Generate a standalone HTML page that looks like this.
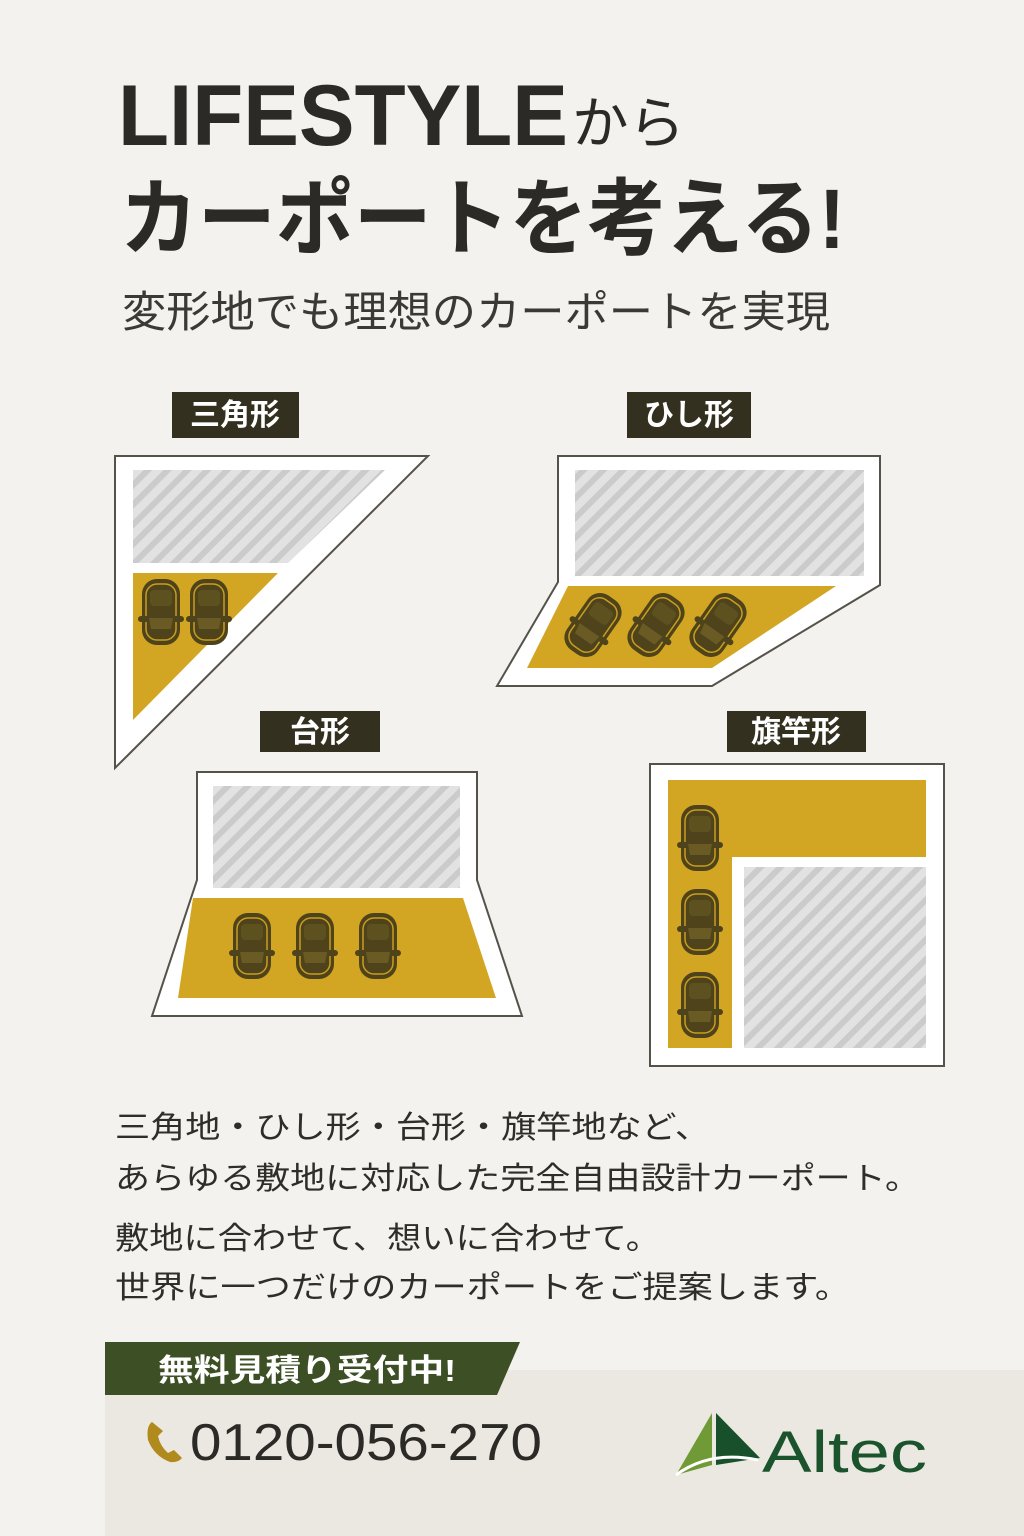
<!DOCTYPE html>
<html><head><meta charset="utf-8"><style>
html,body{margin:0;padding:0;background:#f3f2ef;}
svg{display:block;}
text{font-family:"Liberation Sans","Noto Sans CJK JP",sans-serif;}
</style></head><body>
<svg width="1024" height="1536" viewBox="0 0 1024 1536" xmlns="http://www.w3.org/2000/svg">
<defs>
<pattern id="h" patternUnits="userSpaceOnUse" width="14" height="14" patternTransform="rotate(45)">
<rect width="14" height="14" fill="#e2e2e2"/><rect width="6" height="14" fill="#cbcbcb"/>
</pattern>
<g id="car">
<rect x="-19" y="-33" width="38" height="66" rx="15" fill="#4e431a"/>
<rect x="-15" y="-28" width="30" height="56" rx="11" fill="none" stroke="#c99d1f" stroke-width="1.5"/>
<rect x="-11" y="-22" width="22" height="16" rx="4" fill="#5e5120"/>
<rect x="-23" y="4" width="46" height="6" rx="3" fill="#4e431a"/>
<path d="M-12 6 L12 6 L10 17 L-10 17Z" fill="#6a5b24"/>
</g>
</defs>
<rect width="1024" height="1536" fill="#f3f2ef"/>

<text x="118" y="145" font-size="86" font-weight="bold" fill="#2b2a26" textLength="450" lengthAdjust="spacingAndGlyphs">LIFESTYLE</text>
<text x="572" y="143" font-size="56" fill="#2b2a26" textLength="113" lengthAdjust="spacingAndGlyphs">から</text>
<text x="120" y="248" font-size="84" font-weight="bold" fill="#2b2a26" textLength="725" lengthAdjust="spacingAndGlyphs">カーポートを考える!</text>
<text x="122" y="327" font-size="43" fill="#3a3935" textLength="708" lengthAdjust="spacingAndGlyphs">変形地でも理想のカーポートを実現</text>

<g font-size="30" font-weight="bold" fill="#fff">
<rect x="172" y="392" width="127" height="46" fill="#33301f"/><text x="235" y="425" text-anchor="middle">三角形</text>
<rect x="627" y="392" width="124" height="46" fill="#33301f"/><text x="689" y="425" text-anchor="middle">ひし形</text>
<rect x="260" y="711" width="120" height="41" fill="#33301f"/><text x="320" y="742" text-anchor="middle">台形</text>
<rect x="727" y="711" width="139" height="41" fill="#33301f"/><text x="796" y="742" text-anchor="middle">旗竿形</text>
</g>

<polygon points="115,456 428,456 115,768" fill="#fff" stroke="#55524a" stroke-width="2"/>
<polygon points="133,470 385,470 288,563 133,563" fill="url(#h)"/>
<polygon points="133,573 278,573 133,720" fill="#d2a623"/>
<use href="#car" x="161" y="612"/><use href="#car" x="209" y="612"/>

<polygon points="558,456 880,456 880,585 712,686 497,686 558,582" fill="#fff" stroke="#55524a" stroke-width="2"/>
<rect x="575" y="470" width="289" height="106" fill="url(#h)"/>
<polygon points="568,586 836,586 712,668 527,668" fill="#d2a623"/>
<use href="#car" transform="translate(593,625) rotate(35)"/>
<use href="#car" transform="translate(656,625) rotate(35)"/>
<use href="#car" transform="translate(718,625) rotate(35)"/>

<polygon points="197,772 477,772 477,880 522,1016 152,1016 197,880" fill="#fff" stroke="#55524a" stroke-width="2"/>
<rect x="213" y="786" width="247" height="102" fill="url(#h)"/>
<polygon points="193,898 463,898 496,998 178,998" fill="#d2a623"/>
<use href="#car" x="252" y="946"/><use href="#car" x="315" y="946"/><use href="#car" x="378" y="946"/>

<rect x="650" y="764" width="294" height="302" fill="#fff" stroke="#55524a" stroke-width="2"/>
<rect x="668" y="780" width="258" height="77" fill="#d2a623"/>
<rect x="668" y="780" width="64" height="268" fill="#d2a623"/>
<rect x="744" y="867" width="182" height="181" fill="url(#h)"/>
<use href="#car" x="700" y="838"/><use href="#car" x="700" y="922"/><use href="#car" x="700" y="1005"/>

<g font-size="31" fill="#2e2d29">
<text x="115" y="1138" textLength="595" lengthAdjust="spacingAndGlyphs">三角地・ひし形・台形・旗竿地など、</text>
<text x="115" y="1189" textLength="805" lengthAdjust="spacingAndGlyphs">あらゆる敷地に対応した完全自由設計カーポート。</text>
<text x="115" y="1249" textLength="545" lengthAdjust="spacingAndGlyphs">敷地に合わせて、想いに合わせて。</text>
<text x="115" y="1298" textLength="735" lengthAdjust="spacingAndGlyphs">世界に一つだけのカーポートをご提案します。</text>
</g>

<rect x="105" y="1370" width="919" height="166" fill="#ebe8e1"/>
<polygon points="105,1342 520,1342 497,1395 105,1395" fill="#3d4f25"/>
<text x="158" y="1381" font-size="31" font-weight="bold" fill="#fff" textLength="298" lengthAdjust="spacingAndGlyphs">無料見積り受付中!</text>
<path d="M152 1422 Q146 1426 148 1440 Q154 1456 170 1462 Q178 1463 182 1458 L174 1450 L168 1453 Q160 1446 158 1436 L163 1431 Z" fill="#b08a1c"/>
<text x="190" y="1460" font-size="52" fill="#2b2a26" textLength="352" lengthAdjust="spacingAndGlyphs">0120-056-270</text>
<polygon points="712,1413 676,1475 712,1465" fill="#6f9a35"/>
<polygon points="716,1413 716,1465 760,1458" fill="#17502b"/>
<path d="M676 1475 Q710 1450 758 1460" stroke="#fff" stroke-width="3" fill="none"/>
<text x="762" y="1472" font-size="58" fill="#1b532d" textLength="165" lengthAdjust="spacingAndGlyphs">Altec</text>
</svg>
</body></html>
